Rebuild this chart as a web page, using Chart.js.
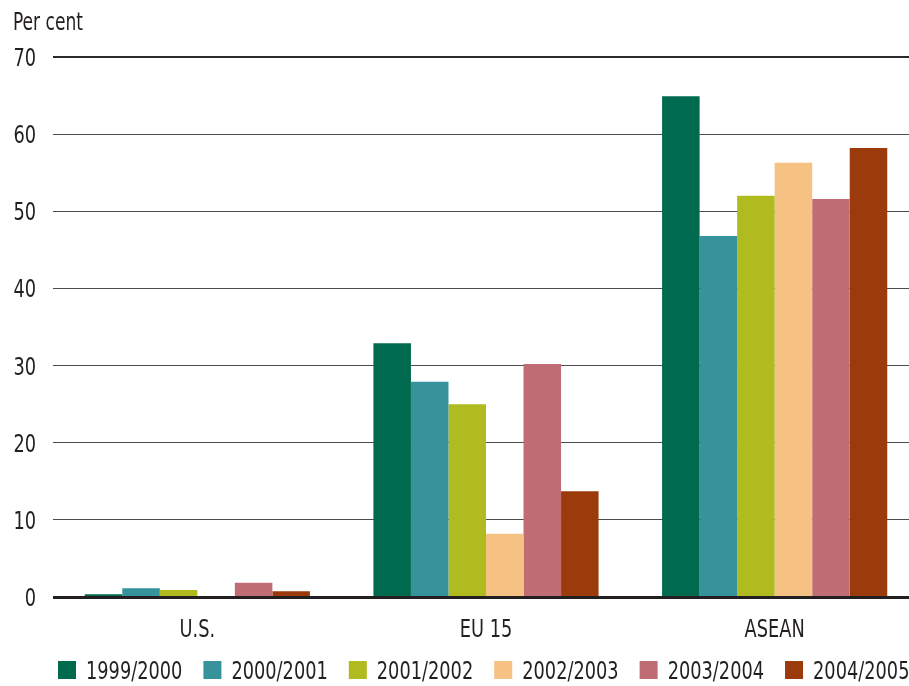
<!DOCTYPE html>
<html>
<head>
<meta charset="utf-8">
<script src="https://cdn.jsdelivr.net/npm/chart.js@4.4.1/dist/chart.umd.min.js"></script>
<style>
  html, body { margin: 0; padding: 0; background: #ffffff; overflow: hidden; }
  #wrap { width: 919px; height: 686px; position: relative; }
</style>
</head>
<body>
<div id="wrap"><canvas id="chart"></canvas></div>
<script>
// Share of exports, per cent, by destination and fiscal year
const regions = ['U.S.', 'EU 15', 'ASEAN'];
const years = ['1999/2000', '2000/2001', '2001/2002', '2002/2003', '2003/2004', '2004/2005'];
const fy1999 = [0.35, 32.9, 64.9];
const fy2000 = [1.15, 27.9, 46.8];
const fy2001 = [0.9, 25.0, 52.0];
const fy2002 = [0, 8.2, 56.3];
const fy2003 = [1.85, 30.2, 51.6];
const fy2004 = [0.75, 13.7, 58.2];
const yTicks = [0, 10, 20, 30, 40, 50, 60, 70];
const unitLabel = 'Per cent';

const seriesValues = [fy1999, fy2000, fy2001, fy2002, fy2003, fy2004];
const seriesColours = ['#006a4e', '#36939b', '#b0bb1f', '#f5c283', '#bf6c75', '#9b3a0a'];

const FONT = '"DejaVu Sans Condensed", "DejaVu Sans", sans-serif';
const INK = '#231f20';
const SQUEEZE = 0.79;   // horizontal compression for a narrow typeface

function narrowText(ctx, text, x, y, align, size) {
  ctx.save();
  ctx.font = size + 'px ' + FONT;
  ctx.fillStyle = INK;
  ctx.textAlign = align;
  ctx.textBaseline = 'alphabetic';
  ctx.translate(x, y);
  ctx.scale(SQUEEZE, 1);
  ctx.fillText(text, 0, 0);
  ctx.restore();
}
function narrowWidth(ctx, text, size) {
  ctx.save();
  ctx.font = size + 'px ' + FONT;
  const w = ctx.measureText(text).width * SQUEEZE;
  ctx.restore();
  return w;
}

// Axis labels, unit caption and legend in a condensed face
const labelsPlugin = {
  id: 'narrowLabels',
  afterDraw(chart) {
    const ctx = chart.ctx;
    const xs = chart.scales.x, ys = chart.scales.y;
    narrowText(ctx, unitLabel, 13, 30, 'left', 24);

    ys.ticks.forEach(t => {
      const y = ys.getPixelForValue(t.value);
      narrowText(ctx, String(t.value), 36, y + 9, 'right', 25);
    });

    regions.forEach((r, i) => {
      narrowText(ctx, r, xs.getPixelForValue(i), 637, 'center', 25);
    });

    let x = 58;
    years.forEach((yr, i) => {
      ctx.fillStyle = seriesColours[i];
      ctx.fillRect(x, 661, 18, 18);
      narrowText(ctx, yr, x + 28, 679, 'left', 25);
      x += 28 + narrowWidth(ctx, yr, 25) + 21;
    });
  }
};

// Heavy baseline drawn over the bar feet
const baseLine = {
  id: 'baseLine',
  afterDatasetsDraw(chart) {
    const y = chart.scales.y.getPixelForValue(0);
    const ctx = chart.ctx;
    ctx.save();
    ctx.strokeStyle = INK;
    ctx.lineWidth = 3;
    ctx.beginPath();
    ctx.moveTo(chart.chartArea.left, y + 0.5);
    ctx.lineTo(chart.chartArea.right, y + 0.5);
    ctx.stroke();
    ctx.restore();
  }
};

new Chart(document.getElementById('chart'), {
  type: 'bar',
  data: {
    labels: regions,
    datasets: years.map((yr, i) => ({
      label: yr,
      data: seriesValues[i],
      backgroundColor: seriesColours[i],
      borderWidth: 0,
      categoryPercentage: 0.78,
      barPercentage: 1.0
    }))
  },
  options: {
    responsive: true,
    maintainAspectRatio: false,
    animation: false,
    devicePixelRatio: 1,
    layout: { padding: { top: 57, left: 0, right: 0, bottom: 0 } },
    plugins: {
      tooltip: { enabled: false },
      legend: { display: false }
    },
    scales: {
      x: {
        grid: { display: false, drawTicks: false },
        border: { display: false },
        ticks: { display: false },
        afterFit(scale) { scale.height = 89; }
      },
      y: {
        min: 0,
        max: 70,
        afterBuildTicks(scale) {
          scale.ticks = yTicks.map(v => ({ value: v }));
        },
        afterFit(scale) { scale.width = 53; },
        border: { display: false },
        grid: {
          drawTicks: false,
          color: ctx => ctx.tick && ctx.tick.value === 70 ? '#2a2a2a' : '#4d4d4d',
          lineWidth: ctx => ctx.tick && ctx.tick.value === 70 ? 2 : 1
        },
        ticks: { display: false }
      }
    }
  },
  plugins: [labelsPlugin, baseLine]
});
</script>
</body>
</html>
